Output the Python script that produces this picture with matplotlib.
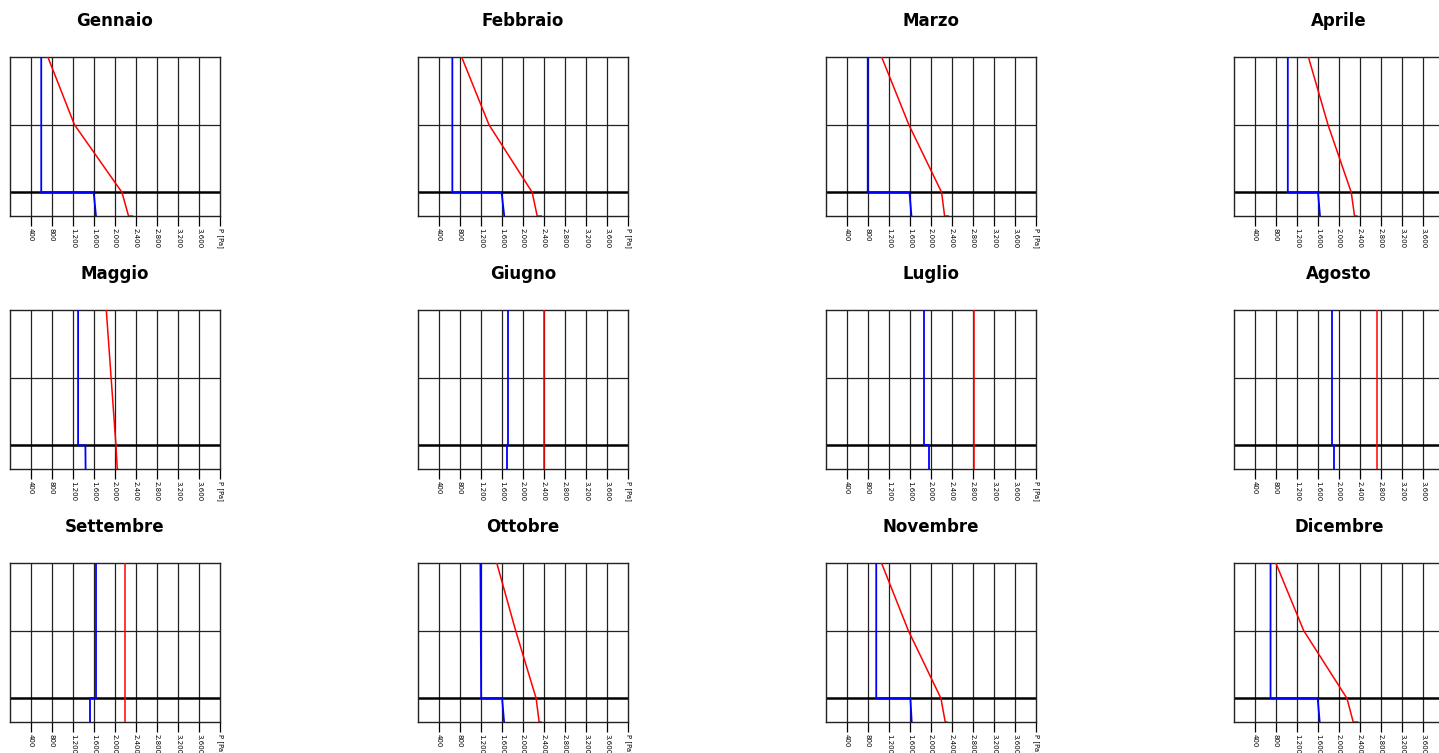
import numpy as np
import matplotlib.pyplot as plt
from matplotlib.ticker import FixedLocator, FuncFormatter

mesi = ["Gennaio", "Febbraio", "Marzo", "Aprile",
        "Maggio", "Giugno", "Luglio", "Agosto",
        "Settembre", "Ottobre", "Novembre", "Dicembre"]

# quote delle interfacce (cm, dal basso): superficie, strato sottile, meta', superficie esterna
quota_fondo = 0.0
quota_barriera = 4.2
quota_mezzo = 16.2
quota_cima = 28.2

# pressione di saturazione [Pa]: cima, mezzo, barriera, fondo, superficie
p_sat_gen = [721, 1227, 2132, 2258, 2334]
p_sat_feb = [831, 1351, 2175, 2270, 2346]
p_sat_mar = [1060, 1577, 2202, 2259, 2328]
p_sat_apr = [1417, 1790, 2233, 2296, 2340]
p_sat_mag = [1834, 1926, 2018, 2043, 2050]
p_sat_giu = [2400, 2400, 2400, 2400, 2400]
p_sat_lug = [2810, 2810, 2810, 2810, 2810]
p_sat_ago = [2730, 2730, 2730, 2730, 2730]
p_sat_set = [2190, 2190, 2190, 2190, 2190]
p_sat_ott = [1500, 1860, 2250, 2307, 2345]
p_sat_nov = [1057, 1569, 2189, 2271, 2300]
p_sat_dic = [797, 1328, 2151, 2271, 2353]

# pressione parziale del vapore [Pa]: cima, mezzo, barriera (sopra), barriera (sotto), fondo
p_vap_gen = [595, 595, 595, 1594, 1638]
p_vap_feb = [654, 654, 654, 1592, 1643]
p_vap_mar = [795, 795, 795, 1590, 1628]
p_vap_apr = [1025, 1025, 1025, 1600, 1638]
p_vap_mag = [1297, 1297, 1297, 1436, 1440]
p_vap_giu = [1711, 1711, 1711, 1686, 1686]
p_vap_lug = [1866, 1866, 1866, 1956, 1956]
p_vap_ago = [1872, 1872, 1872, 1910, 1910]
p_vap_set = [1645, 1645, 1645, 1531, 1531]
p_vap_ott = [1189, 1196, 1203, 1602, 1640]
p_vap_nov = [957, 957, 957, 1608, 1632]
p_vap_dic = [696, 696, 696, 1594, 1632]

p_sat = [p_sat_gen, p_sat_feb, p_sat_mar, p_sat_apr, p_sat_mag, p_sat_giu,
         p_sat_lug, p_sat_ago, p_sat_set, p_sat_ott, p_sat_nov, p_sat_dic]
p_vap = [p_vap_gen, p_vap_feb, p_vap_mar, p_vap_apr, p_vap_mag, p_vap_giu,
         p_vap_lug, p_vap_ago, p_vap_set, p_vap_ott, p_vap_nov, p_vap_dic]

y_sat = [quota_cima, quota_mezzo, quota_barriera, quota_fondo, quota_fondo]
y_vap = [quota_cima, quota_mezzo, quota_barriera, quota_barriera, quota_fondo]

tick_p = list(range(400, 4001, 400))


def fmt_p(v, pos):
    if v >= 4000:
        return "P [Pa]"
    return f"{int(v):,}".replace(",", ".")


W, H = 1439, 753
fig = plt.figure(figsize=(W / 100, H / 100), dpi=100)

col_x = [10, 418, 826, 1234]
row_top = [57, 310, 563]
aw, ah = 210, 159

for i, mese in enumerate(mesi):
    r, c = divmod(i, 4)
    ax = fig.add_axes([col_x[c] / W, 1 - (row_top[r] + ah) / H, aw / W, ah / H])
    ax.set_xlim(0, 4000)
    ax.set_ylim(quota_fondo, quota_cima)

    for t in tick_p[:-1]:
        ax.axvline(t, color="#222222", lw=0.9, zorder=1)
    ax.axhline(quota_mezzo, color="#222222", lw=0.9, zorder=1)
    ax.axhline(quota_barriera, color="black", lw=1.8, zorder=2)

    ax.plot(p_vap[i], y_vap, color="blue", lw=1.3, zorder=3)
    ax.plot(p_sat[i], y_sat, color="red", lw=1.1, zorder=3)

    ax.xaxis.set_major_locator(FixedLocator(tick_p))
    ax.xaxis.set_major_formatter(FuncFormatter(fmt_p))
    ax.tick_params(axis="x", direction="out", length=7, width=0.9,
                   pad=1.5, labelsize=5, labelrotation=-90, colors="black")
    ax.set_yticks([])
    for s in ax.spines.values():
        s.set_color("#222222")
        s.set_linewidth(1.0)
    for lab in ax.get_xticklabels():
        lab.set_verticalalignment("top")

    ax.set_title(mese, fontsize=12, fontweight="bold", pad=22)

fig.savefig("out.png", dpi=100)
